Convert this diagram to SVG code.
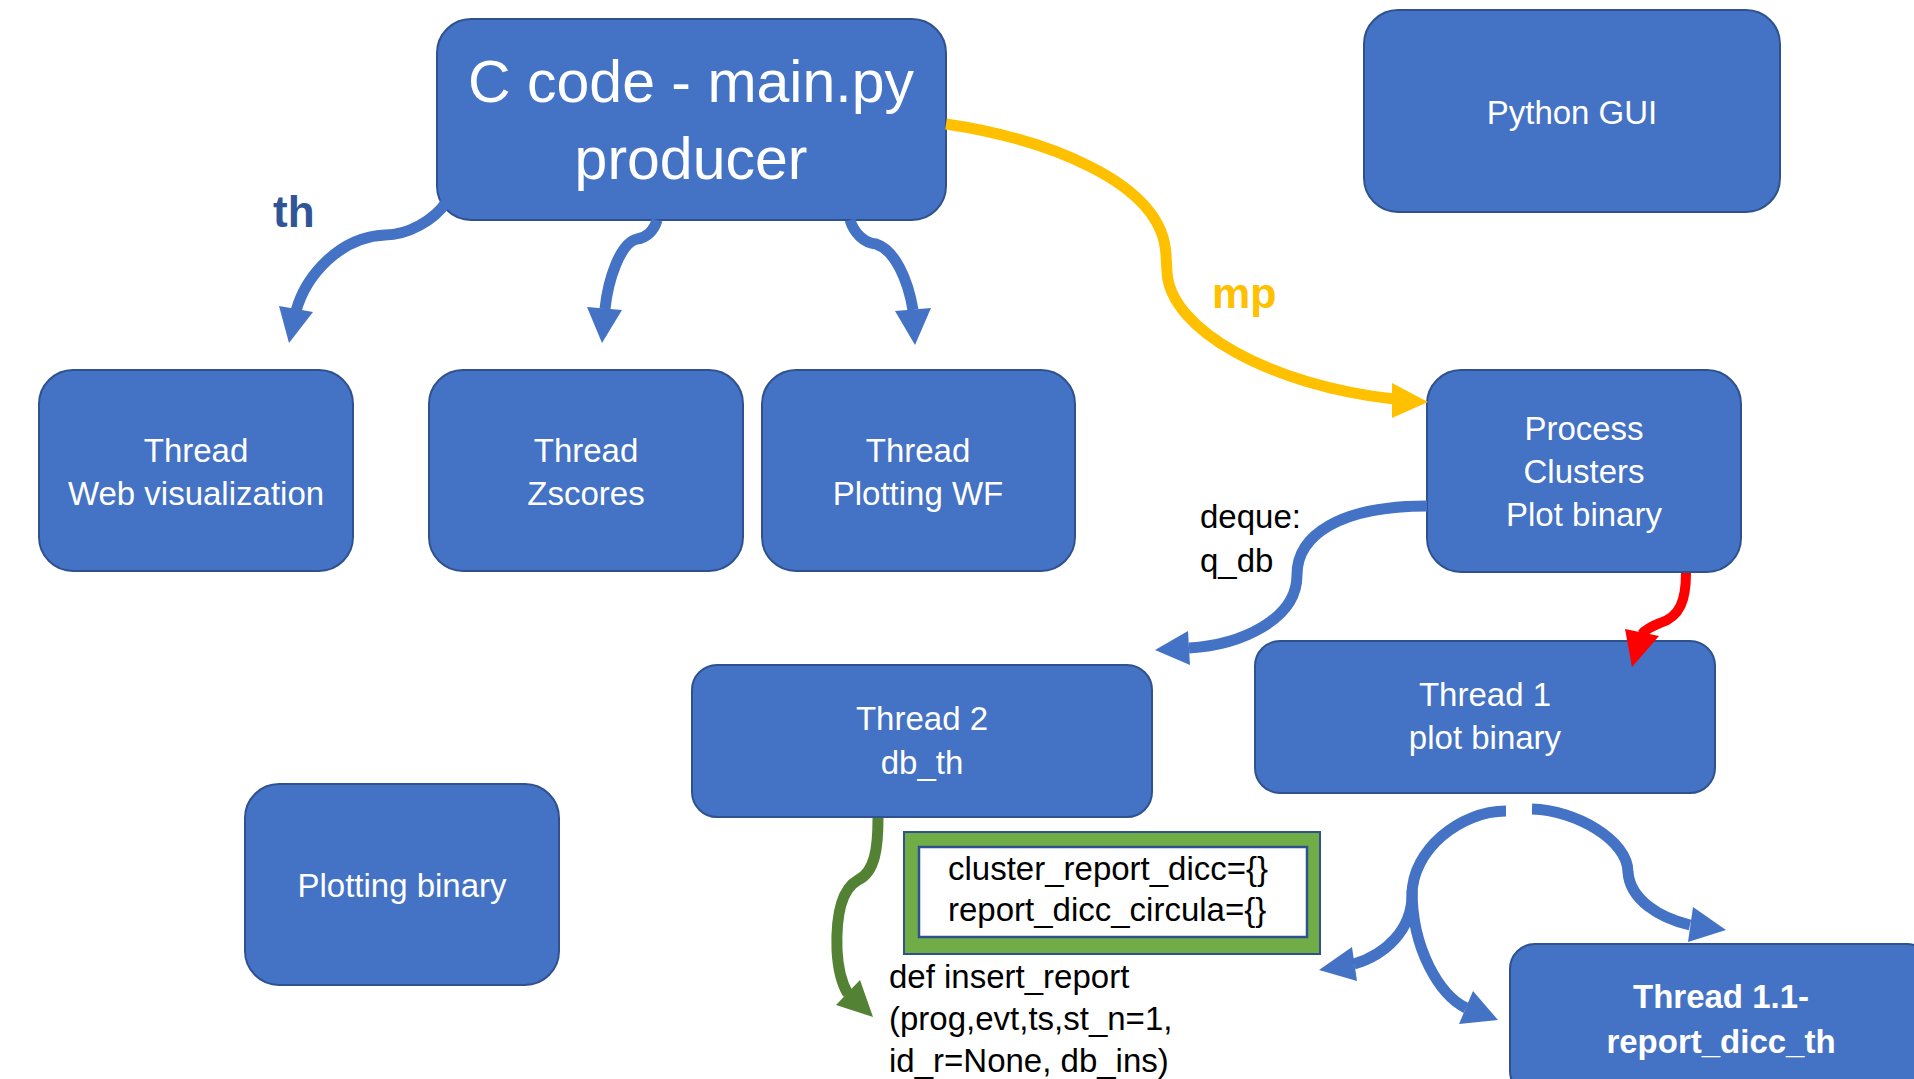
<svg xmlns="http://www.w3.org/2000/svg" width="1914" height="1079" viewBox="0 0 1914 1079">
<style>
.box{fill:#4472C4;stroke:#2F528F;stroke-width:2}
.lbl{font-family:"Liberation Sans",Arial,sans-serif;font-size:33px;fill:#FFFFFF;text-anchor:middle}
.txt{font-family:"Liberation Sans",Arial,sans-serif;font-size:33px;fill:#000000}
.big{font-family:"Liberation Sans",Arial,sans-serif;font-size:59px;fill:#FFFFFF;text-anchor:middle}
.bold{font-weight:bold}
.cb{fill:none;stroke:#4472C4;stroke-width:11}
.cy{fill:none;stroke:#FFC000;stroke-width:11}
.cr{fill:none;stroke:#FF0000;stroke-width:10}
.cg{fill:none;stroke:#548235;stroke-width:11}
.hb{fill:#4472C4}
.hy{fill:#FFC000}
.hr{fill:#FF0000}
.hg{fill:#548235}
</style>
<rect x="0" y="0" width="1914" height="1079" fill="#FFFFFF"/>
<g id="node-main">
  <rect class="box" x="437" y="19" width="509" height="201" rx="34" ry="34"/>
  <text class="big" x="691" y="102">C code - main.py</text>
  <text class="big" x="691" y="179">producer</text>
</g>
<g id="node-python-gui">
  <rect class="box" x="1364" y="10" width="416" height="202" rx="34" ry="34"/>
  <text class="lbl" x="1572" y="124">Python GUI</text>
</g>
<g id="label-th">
  <text class="txt bold" x="273" y="227" style="font-size:44px;fill:#2F5597">th</text>
</g>
<g id="label-mp">
  <text class="txt bold" x="1212" y="308" style="font-size:43px;fill:#FFC000">mp</text>
</g>
<g id="node-web">
  <rect class="box" x="39" y="370" width="314" height="201" rx="34" ry="34"/>
  <text class="lbl" x="196" y="462">Thread</text>
  <text class="lbl" x="196" y="505">Web visualization</text>
</g>
<g id="node-zscores">
  <rect class="box" x="429" y="370" width="314" height="201" rx="34" ry="34"/>
  <text class="lbl" x="586" y="462">Thread</text>
  <text class="lbl" x="586" y="505">Zscores</text>
</g>
<g id="node-plotwf">
  <rect class="box" x="762" y="370" width="313" height="201" rx="34" ry="34"/>
  <text class="lbl" x="918" y="462">Thread</text>
  <text class="lbl" x="918" y="505">Plotting WF</text>
</g>
<g id="node-process">
  <rect class="box" x="1427" y="370" width="314" height="202" rx="34" ry="34"/>
  <text class="lbl" x="1584" y="440">Process</text>
  <text class="lbl" x="1584" y="483">Clusters</text>
  <text class="lbl" x="1584" y="526">Plot binary</text>
</g>
<g id="label-deque">
  <text class="txt" x="1200" y="528">deque:</text>
  <text class="txt" x="1200" y="572">q_db</text>
</g>
<g id="node-thread1">
  <rect class="box" x="1255" y="641" width="460" height="152" rx="25" ry="25"/>
  <text class="lbl" x="1485" y="706">Thread 1</text>
  <text class="lbl" x="1485" y="749">plot binary</text>
</g>
<g id="node-thread2">
  <rect class="box" x="692" y="665" width="460" height="152" rx="25" ry="25"/>
  <text class="lbl" x="922" y="730">Thread 2</text>
  <text class="lbl" x="922" y="774">db_th</text>
</g>
<g id="node-plotting-binary">
  <rect class="box" x="245" y="784" width="314" height="201" rx="34" ry="34"/>
  <text class="lbl" x="402" y="897">Plotting binary</text>
</g>
<g id="node-dicts">
  <rect x="904" y="832" width="416" height="122" fill="#70AD47" stroke="#2F528F" stroke-width="2"/>
  <rect x="919" y="847" width="388" height="90" fill="#FFFFFF" stroke="#2F528F" stroke-width="2.5"/>
  <text class="txt" x="948" y="880">cluster_report_dicc={}</text>
  <text class="txt" x="948" y="921">report_dicc_circula={}</text>
</g>
<g id="label-insert-report">
  <text class="txt" x="889" y="988">def insert_report</text>
  <text class="txt" x="889" y="1030">(prog,evt,ts,st_n=1,</text>
  <text class="txt" x="889" y="1072">id_r=None, db_ins)</text>
</g>
<g id="node-thread11">
  <rect class="box" x="1510" y="944" width="422" height="152" rx="25" ry="25"/>
  <text class="lbl bold" x="1721" y="1008">Thread 1.1-</text>
  <text class="lbl bold" x="1721" y="1053">report_dicc_th</text>
</g>
<g id="connectors">
  <path class="cb" d="M 447 201 C 434 221, 407 235, 385 235 C 340 237, 306 275, 296 311"/>
  <polygon class="hb" points="289,343 279,306 313,312"/>
  <path class="cb" d="M 657 220 C 654 231, 646 238, 637 239 C 620 243, 608 280, 605 309"/>
  <polygon class="hb" points="602,343 587,307 622,310"/>
  <path class="cb" d="M 850 220 C 854 233, 864 243, 876 244 C 895 250, 908 280, 913 310"/>
  <polygon class="hb" points="915,345 895,311 931,308"/>
  <path class="cy" d="M 946 124 C 1040 138, 1163 180, 1166 255 L 1167 272 C 1170 330, 1270 385, 1394 399"/>
  <polygon class="hy" points="1428,402 1392,383 1392,418"/>
  <path class="cb" d="M 1427 506 C 1340 506, 1297 535, 1297 575 C 1297 620, 1240 645, 1189 648"/>
  <polygon class="hb" points="1155,650 1188,631 1190,665"/>
  <path class="cr" d="M 1686 573 C 1686 600, 1680 617, 1660 623 C 1650 627, 1645 630, 1642 634"/>
  <polygon class="hr" points="1632,667 1625,629 1659,636"/>
  <path class="cg" d="M 878 818 C 878 848, 875 872, 858 880 C 840 890, 836 920, 837 950 C 838 970, 842 984, 848 994"/>
  <polygon class="hg" points="873,1017 836,1005 860,980"/>
  <path class="cb" d="M 1506 811 C 1460 811, 1412 850, 1412 895 C 1412 930, 1385 955, 1354 964"/>
  <polygon class="hb" points="1319,970 1352,947 1357,981"/>
  <path class="cb" d="M 1412 890 C 1412 950, 1440 995, 1466 1008"/>
  <polygon class="hb" points="1498,1020 1473,991 1459,1024"/>
  <path class="cb" d="M 1532 809 C 1575 810, 1628 840, 1628 872 C 1630 900, 1660 918, 1690 925"/>
  <polygon class="hb" points="1726,930 1693,907 1688,942"/>
</g>
</svg>
